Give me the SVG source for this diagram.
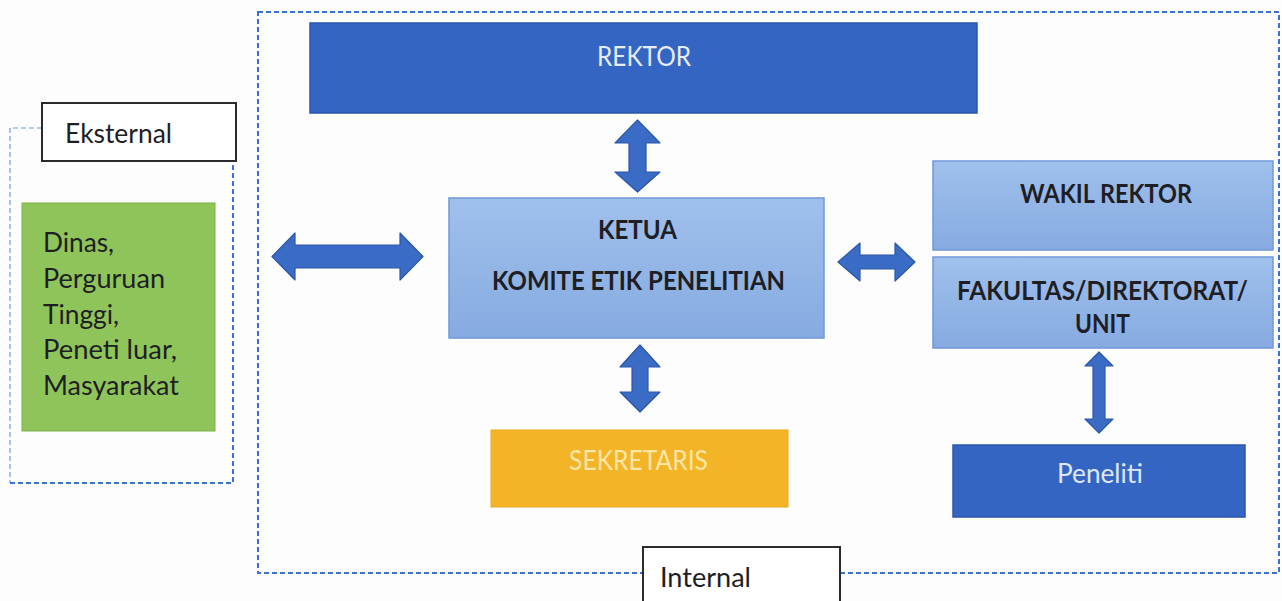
<svg xmlns="http://www.w3.org/2000/svg" width="1282" height="601" viewBox="0 0 1282 601">
<defs>
<linearGradient id="lb" x1="0" y1="0" x2="0" y2="1">
<stop offset="0" stop-color="#a0c0ec"/>
<stop offset="1" stop-color="#86abe1"/>
</linearGradient>
<style>
.t{font-family:Lato,"Open Sans","Liberation Sans",sans-serif;font-size:26px}
.b{font-weight:bold;fill:#1e1e24}
.dash{fill:none;stroke:#3a70d2;stroke-width:2;stroke-dasharray:5 3}
.dash-thin{fill:none;stroke:#6d9ae0;stroke-width:1.2;stroke-dasharray:5 3}
.dark{fill:#3565c2;stroke:#2b55ad;stroke-width:1.5}
.light{fill:url(#lb);stroke:#6f98d8;stroke-width:1.5}
.lbl{fill:#fff;stroke:#2a2a2a;stroke-width:2}
.arr{fill:#3a6cc6;stroke:#2a56a8;stroke-width:1.2;stroke-linejoin:round}
</style>
</defs>
<rect width="1282" height="601" fill="#fdfdfe"/>
<g id="internal-frame">
<rect class="dash" x="258" y="12" width="1021" height="561"/>
</g>
<g id="eksternal-frame">
<path class="dash-thin" d="M42,128 H10 V483"/>
<path class="dash" d="M10,483 H233 V161"/>
</g>
<g id="eksternal-label">
<rect class="lbl" x="42" y="103" width="194" height="58"/>
<text class="t" x="65" y="143" fill="#1e1e24" textLength="107" lengthAdjust="spacingAndGlyphs">Eksternal</text>
</g>
<g id="internal-label">
<rect class="lbl" x="643" y="547" width="197" height="60"/>
<text class="t" x="660" y="587" fill="#1e1e24" textLength="91" lengthAdjust="spacingAndGlyphs">Internal</text>
</g>
<g id="eksternal">
<rect x="22" y="203" width="193" height="228" fill="#8fc45a" stroke="#7db04b" stroke-width="1"/>
<g class="t" fill="#1e1e24">
<text x="43" y="252" textLength="71" lengthAdjust="spacingAndGlyphs">Dinas,</text>
<text x="43" y="288" textLength="122" lengthAdjust="spacingAndGlyphs">Perguruan</text>
<text x="43" y="324" textLength="76" lengthAdjust="spacingAndGlyphs">Tinggi,</text>
<text x="43" y="359" textLength="134" lengthAdjust="spacingAndGlyphs">Peneti luar,</text>
<text x="43" y="395" textLength="136" lengthAdjust="spacingAndGlyphs">Masyarakat</text>
</g>
</g>
<g id="rektor">
<rect class="dark" x="310" y="23" width="667" height="90"/>
<text class="t" x="597" y="66" fill="#e6edf8" textLength="94" lengthAdjust="spacingAndGlyphs">REKTOR</text>
</g>
<g id="ketua">
<rect class="light" x="449" y="198" width="375" height="140"/>
<text class="t b" x="598" y="239" textLength="79" lengthAdjust="spacingAndGlyphs">KETUA</text>
<text class="t b" x="492" y="290" textLength="293" lengthAdjust="spacingAndGlyphs">KOMITE ETIK PENELITIAN</text>
</g>
<g id="wakil-rektor">
<rect class="light" x="933" y="161" width="340" height="89"/>
<text class="t b" x="1020" y="203" textLength="172" lengthAdjust="spacingAndGlyphs">WAKIL REKTOR</text>
</g>
<g id="fakultas">
<rect class="light" x="933" y="257" width="340" height="91"/>
<text class="t b" x="957" y="300" textLength="291" lengthAdjust="spacingAndGlyphs">FAKULTAS/DIREKTORAT/</text>
<text class="t b" x="1075" y="333" textLength="55" lengthAdjust="spacingAndGlyphs">UNIT</text>
</g>
<g id="sekretaris">
<rect x="491" y="430" width="297" height="77" fill="#f3b428" stroke="#eaa91e" stroke-width="1"/>
<text class="t" x="569" y="470" fill="#fbe6a4" textLength="139" lengthAdjust="spacingAndGlyphs">SEKRETARIS</text>
</g>
<g id="peneliti">
<rect class="dark" x="953" y="445" width="292" height="72"/>
<text class="t" x="1057" y="483" fill="#dfe7f6" textLength="86" lengthAdjust="spacingAndGlyphs">Peneliti</text>
</g>
<g id="connectors">
<polygon class="arr" points="637.5,120 660,143 646,143 646,172 660,172 637.5,192 615,172 629,172 629,143 615,143"/>
<polygon class="arr" points="640,345 660,367 648,367 648,392 660,392 640,412 620,392 632,392 632,367 620,367"/>
<polygon class="arr" points="272,256.5 295,233 295,245 400,245 400,233 423,256.5 400,280 400,268 295,268 295,280"/>
<polygon class="arr" points="838,262 860,243 860,255 895,255 895,243 915,262 895,281 895,269 860,269 860,281"/>
<polygon class="arr" points="1099,352 1113,366 1105,366 1105,419 1113,419 1099,433 1085,419 1093,419 1093,366 1085,366"/>
</g>
</svg>
